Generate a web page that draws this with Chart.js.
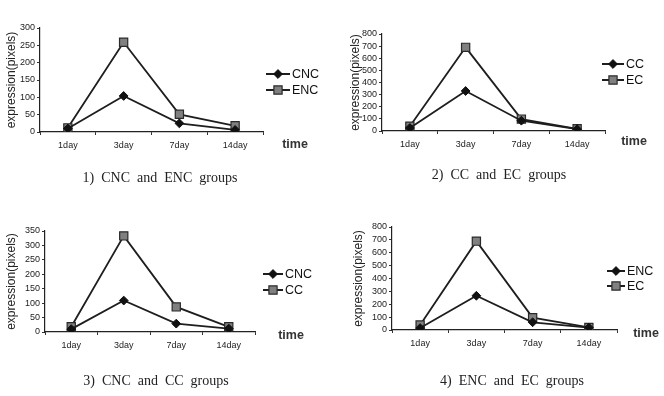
<!DOCTYPE html>
<html>
<head>
<meta charset="utf-8">
<script src="https://cdn.jsdelivr.net/npm/chart.js@4/dist/chart.umd.min.js"></script>
<style>
  html, body { margin:0; padding:0; background:#fff; }
  #wrap { position:relative; width:664px; height:396px; overflow:hidden; background:#fff; }
  canvas { position:absolute; }
  .cap { position:absolute; font-family:"Liberation Serif","DejaVu Serif",serif; font-size:14px; color:#222; word-spacing:3.5px; white-space:nowrap; transform:translate(-50%,-50%); }
  .time { position:absolute; font-family:"Liberation Sans",Arial,sans-serif; font-size:12.5px; font-weight:bold; color:#333; transform:translate(-50%,-50%); }
</style>
</head>
<body>
<div id="wrap">
  <canvas id="c1" width="332" height="198" style="left:0;top:0"></canvas>
  <canvas id="c2" width="332" height="198" style="left:332px;top:0"></canvas>
  <canvas id="c3" width="332" height="198" style="left:0;top:198px"></canvas>
  <canvas id="c4" width="332" height="198" style="left:332px;top:198px"></canvas>
  <div class="time" style="left:295px;top:144px">time</div>
  <div class="time" style="left:634px;top:141px">time</div>
  <div class="time" style="left:291px;top:335px">time</div>
  <div class="time" style="left:646px;top:333px">time</div>
  <div class="cap" style="left:160px;top:178px">1) CNC and ENC groups</div>
  <div class="cap" style="left:499px;top:175px">2) CC and EC groups</div>
  <div class="cap" style="left:156px;top:381px">3) CNC and CC groups</div>
  <div class="cap" style="left:512px;top:381px">4) ENC and EC groups</div>
</div>
<script>
// ---- data ----
const categories = ['1day', '3day', '7day', '14day'];
const yTitle = 'expression(pixels)';

const names1 = ['CNC', 'ENC'];
const cnc1 = [10, 104, 25, 6];
const enc1 = [12, 259, 51, 18];

const names2 = ['CC', 'EC'];
const cc2 = [25, 330, 85, 15];
const ec2 = [40, 690, 98, 18];

const names3 = ['CNC', 'CC'];
const cnc3 = [10, 109, 29, 12];
const cc3 = [18, 333, 87, 18];

const names4 = ['ENC', 'EC'];
const enc4 = [15, 266, 60, 18];
const ec4 = [39, 690, 96, 20];

const yMax = [300, 800, 350, 800];
const yStep = [50, 100, 50, 100];

// ---- styling ----
const LINE = '#1e1e1e';
const diamondStyle = { pointStyle: 'rectRot', pointRadius: 4.4, pointBackgroundColor: '#111', pointBorderColor: '#111', pointBorderWidth: 1 };
const squareStyle = { pointStyle: 'rect', pointRadius: 5.8, pointBackgroundColor: '#808080', pointBorderColor: '#2a2a2a', pointBorderWidth: 1.2 };

function drawMarker(ctx, st, x, y) {
  ctx.save();
  ctx.fillStyle = st.pointBackgroundColor;
  ctx.strokeStyle = st.pointBorderColor;
  ctx.lineWidth = st.pointBorderWidth;
  ctx.beginPath();
  const r = st.pointRadius;
  if (st.pointStyle === 'rectRot') {
    ctx.moveTo(x, y - r); ctx.lineTo(x + r, y); ctx.lineTo(x, y + r); ctx.lineTo(x - r, y); ctx.closePath();
  } else {
    const s = r * Math.SQRT1_2;
    ctx.rect(x - s, y - s, 2 * s, 2 * s);
  }
  ctx.fill(); ctx.stroke();
  ctx.restore();
}

const legendPlugin = {
  id: 'customLegend',
  afterDraw(chart, args, opts) {
    const ctx = chart.ctx;
    chart.data.datasets.forEach((ds, i) => {
      const y = opts.ys[i];
      const x0 = opts.x, x1 = opts.x + opts.len;
      ctx.save();
      ctx.strokeStyle = LINE; ctx.lineWidth = 2;
      ctx.beginPath(); ctx.moveTo(x0, y); ctx.lineTo(x1, y); ctx.stroke();
      ctx.restore();
      drawMarker(ctx, i === 0 ? diamondStyle : squareStyle, (x0 + x1) / 2, y);
      ctx.save();
      ctx.fillStyle = '#111';
      ctx.font = '12.5px "Liberation Sans", Arial, sans-serif';
      ctx.textBaseline = 'middle';
      ctx.fillText(ds.label, x1 + 2, y + 0.5);
      ctx.restore();
    });
  }
};

function makeChart(id, names, s1, s2, idx, lay) {
  new Chart(document.getElementById(id), {
    type: 'line',
    data: {
      labels: categories,
      datasets: [
        Object.assign({ label: names[0], data: s1, borderColor: LINE, borderWidth: 1.8, fill: false, tension: 0 }, diamondStyle),
        Object.assign({ label: names[1], data: s2, borderColor: LINE, borderWidth: 1.8, fill: false, tension: 0 }, squareStyle)
      ]
    },
    options: {
      responsive: false,
      animation: false,
      devicePixelRatio: 1,
      layout: { padding: { left: lay.pl, right: lay.pr, top: lay.pt, bottom: lay.pb } },
      plugins: {
        legend: { display: false },
        tooltip: { enabled: false },
        customLegend: lay.legend
      },
      scales: {
        x: {
          type: 'category',
          offset: true,
          grid: { offset: true, drawOnChartArea: false, drawTicks: true, tickLength: 3, color: '#333', lineWidth: 1 },
          border: { display: true, color: '#222', width: 1.2 },
          ticks: { color: '#222', padding: 5, autoSkip: false, font: { family: '"Liberation Sans", Arial, sans-serif', size: 9 }, maxRotation: 0 },
          afterFit(scale) { scale.height = 20; }
        },
        y: {
          min: 0, max: yMax[idx],
          ticks: { stepSize: yStep[idx], autoSkip: false, color: '#222', padding: 2, font: { family: '"Liberation Sans", Arial, sans-serif', size: 9 } },
          grid: { drawOnChartArea: false, drawTicks: true, tickLength: 3, color: '#333' },
          border: { display: true, color: '#222', width: 1.2 },
          title: { display: true, text: yTitle, color: '#222', padding: { top: 0, bottom: 0 }, font: { family: '"Liberation Sans", Arial, sans-serif', size: 12 } },
          afterFit(scale) { scale.width = lay.yw; }
        }
      }
    },
    plugins: [legendPlugin]
  });
}

makeChart('c1', names1, cnc1, enc1, 0, { pl: 4, yw: 36, pr: 69, pt: 28, pb: 46, legend: { x: 266, len: 24, ys: [74, 90] } });
makeChart('c2', names2, cc2, ec2, 1, { pl: 16, yw: 34, pr: 59, pt: 34, pb: 47, legend: { x: 270, len: 22, ys: [64, 80] } });
makeChart('c3', names3, cnc3, cc3, 2, { pl: 4, yw: 41, pr: 77, pt: 33, pb: 44, legend: { x: 263, len: 20, ys: [76, 92] } });
makeChart('c4', names4, enc4, ec4, 3, { pl: 19, yw: 41, pr: 47, pt: 29, pb: 46, legend: { x: 275, len: 18, ys: [73, 88] } });
</script>
</body>
</html>
